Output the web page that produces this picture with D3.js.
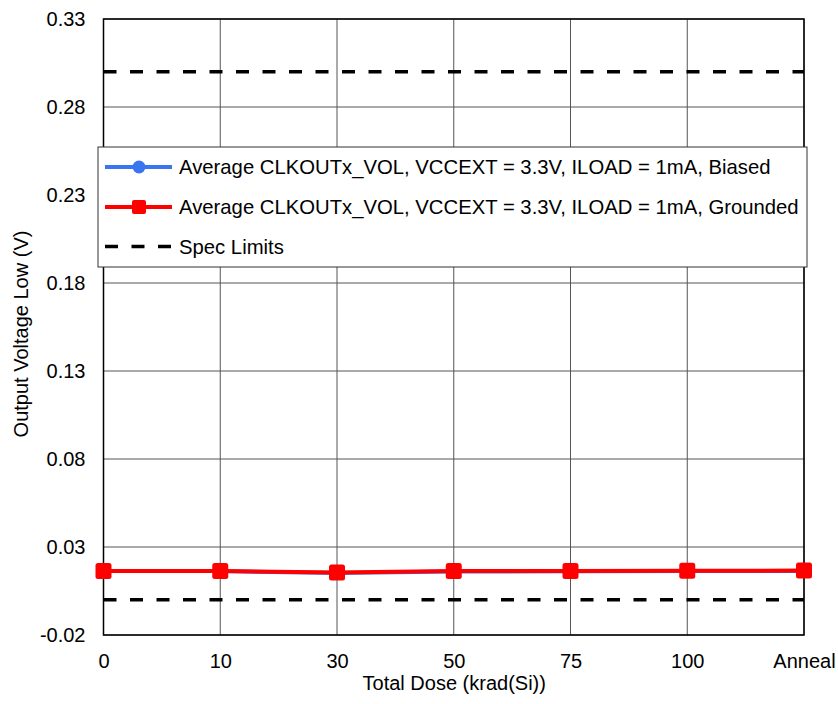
<!DOCTYPE html>
<html>
<head>
<meta charset="utf-8">
<script src="https://cdn.jsdelivr.net/npm/d3@7"></script>
<style>
  html, body { margin: 0; padding: 0; background: #fff; }
  svg text { font-family: "Liberation Sans", Arial, sans-serif; fill: #000; }
</style>
</head>
<body>
<svg id="chart" width="838" height="704"></svg>
<script>
// Total dose steps on the x axis
const categories = ["0", "10", "30", "50", "75", "100", "Anneal"];
// Average CLKOUTx_VOL (V)
const biasedValues   = [0.0163, 0.0163, 0.0152, 0.0161, 0.0162, 0.0163, 0.0164];
const groundedValues = [0.0164, 0.0164, 0.0155, 0.0163, 0.0164, 0.0165, 0.0166];
// Spec limits (V)
const specLimits = [0.30, 0.0];
// y-axis ticks
const yTicks = [-0.02, 0.03, 0.08, 0.13, 0.18, 0.23, 0.28, 0.33];

const seriesNames = [
  "Average CLKOUTx_VOL, VCCEXT = 3.3V, ILOAD = 1mA, Biased",
  "Average CLKOUTx_VOL, VCCEXT = 3.3V, ILOAD = 1mA, Grounded",
  "Spec Limits"
];

const FONT = '"Liberation Sans", Arial, sans-serif';
const svg = d3.select("#chart");
const m = { left: 103.5, right: 804, top: 19, bottom: 635 };

const x = d3.scalePoint().domain(categories).range([m.left, m.right]);
const y = d3.scaleLinear().domain([-0.02, 0.33]).range([m.bottom, m.top]);

// gridlines
const grid = svg.append("g");
grid.selectAll(".hg").data(yTicks).join("line")
  .attr("x1", m.left).attr("x2", m.right)
  .attr("y1", d => y(d)).attr("y2", d => y(d))
  .attr("stroke", "#555").attr("stroke-width", 1);
grid.selectAll(".vg").data(categories).join("line")
  .attr("x1", d => x(d)).attr("x2", d => x(d))
  .attr("y1", m.top).attr("y2", m.bottom)
  .attr("stroke", "#555").attr("stroke-width", 1);

// plot border
svg.append("rect")
  .attr("x", m.left).attr("y", m.top)
  .attr("width", m.right - m.left).attr("height", m.bottom - m.top)
  .attr("fill", "none").attr("stroke", "#000").attr("stroke-width", 1.5);

// y axis labels (plain hyphen for negatives)
const yAxis = d3.axisLeft(y).tickValues(yTicks).tickFormat(d => d.toFixed(2)).tickSize(0).tickPadding(18);
const gy = svg.append("g").attr("transform", `translate(${m.left},0)`).call(yAxis);
gy.select(".domain").remove();
gy.selectAll("text").style("font-size", "20px").style("font-family", FONT);

// x axis labels
const xAxis = d3.axisBottom(x).tickSize(0).tickPadding(19);
const gx = svg.append("g").attr("transform", `translate(0,${m.bottom})`).call(xAxis);
gx.select(".domain").remove();
gx.selectAll("text").style("font-size", "20px").style("font-family", FONT);

// axis titles
svg.append("text").attr("x", (m.left + m.right) / 2 + 0.5).attr("y", 690)
  .attr("text-anchor", "middle").style("font-size", "20px").text("Total Dose (krad(Si))");
svg.append("text").attr("transform", `translate(28,334) rotate(-90)`)
  .attr("text-anchor", "middle").style("font-size", "20px").text("Output Voltage Low (V)");

// spec limits
svg.selectAll(".spec").data(specLimits).join("line")
  .attr("x1", m.left).attr("x2", m.right)
  .attr("y1", d => y(d)).attr("y2", d => y(d))
  .attr("stroke", "#000").attr("stroke-width", 3.5)
  .attr("stroke-dasharray", "13,13.5");

const line = d3.line().x((d, i) => x(categories[i])).y(d => y(d));

// biased series (blue, circles)
svg.append("path").datum(biasedValues).attr("d", line)
  .attr("fill", "none").attr("stroke", "#3a75f0").attr("stroke-width", 4);
svg.selectAll(".bpt").data(biasedValues).join("circle")
  .attr("cx", (d, i) => x(categories[i])).attr("cy", d => y(d)).attr("r", 6.5)
  .attr("fill", "#3a75f0");

// grounded series (red, squares)
svg.append("path").datum(groundedValues).attr("d", line)
  .attr("fill", "none").attr("stroke", "#ff0000").attr("stroke-width", 4);
const sq = 16;
svg.selectAll(".gpt").data(groundedValues).join("rect")
  .attr("x", (d, i) => x(categories[i]) - sq / 2).attr("y", d => y(d) - sq / 2)
  .attr("width", sq).attr("height", sq).attr("rx", 2.5)
  .attr("fill", "#ff0000");

// legend
const lg = svg.append("g");
lg.append("rect").attr("x", 98).attr("y", 147).attr("width", 709).attr("height", 120)
  .attr("fill", "#fff").attr("stroke", "#333").attr("stroke-width", 1);
const rows = [167, 207, 246.5];
const lx1 = 105, lx2 = 172, lmid = 139;
lg.append("line").attr("x1", lx1).attr("x2", lx2).attr("y1", rows[0]).attr("y2", rows[0])
  .attr("stroke", "#3a75f0").attr("stroke-width", 4);
lg.append("circle").attr("cx", lmid).attr("cy", rows[0]).attr("r", 6.5).attr("fill", "#3a75f0");
lg.append("line").attr("x1", lx1).attr("x2", lx2).attr("y1", rows[1]).attr("y2", rows[1])
  .attr("stroke", "#ff0000").attr("stroke-width", 4);
lg.append("rect").attr("x", lmid - 7).attr("y", rows[1] - 7).attr("width", 14).attr("height", 14)
  .attr("rx", 2).attr("fill", "#ff0000");
lg.append("line").attr("x1", lx1).attr("x2", lx2).attr("y1", rows[2]).attr("y2", rows[2])
  .attr("stroke", "#000").attr("stroke-width", 3.5).attr("stroke-dasharray", "13,13.5");
lg.selectAll(".lt").data(seriesNames).join("text")
  .attr("x", 179).attr("y", (d, i) => rows[i]).attr("dy", "0.36em")
  .style("font-size", "20.3px").text(d => d);
</script>
</body>
</html>
